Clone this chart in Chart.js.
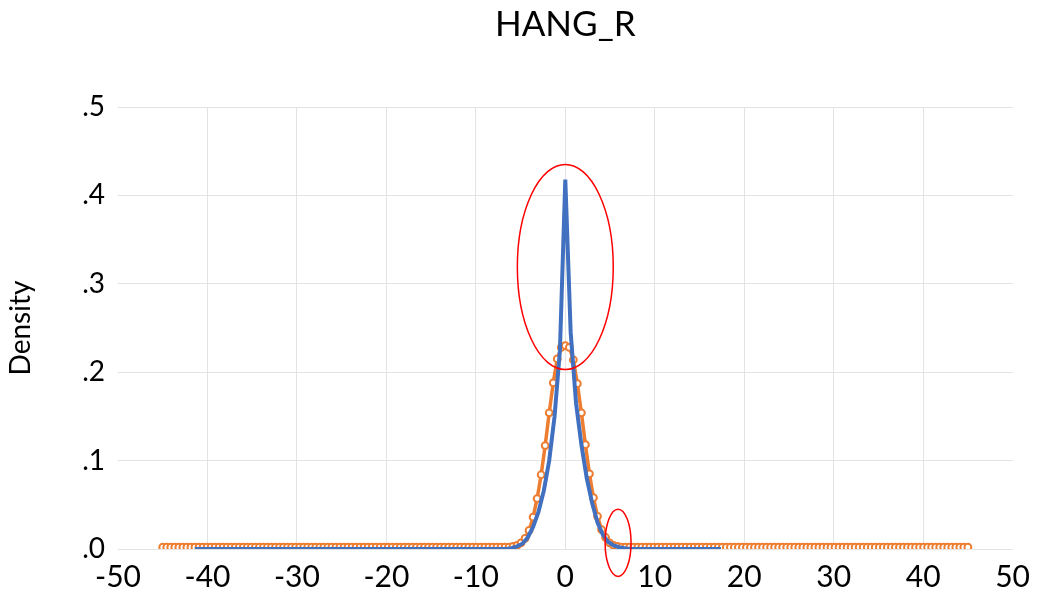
<!DOCTYPE html>
<html>
<head>
<meta charset="utf-8">
<script src="https://cdn.jsdelivr.net/npm/chart.js@4.4.1/dist/chart.umd.min.js"></script>
<style>
  body { margin: 0; background: #fff; }
  #wrap { width: 1040px; height: 605px; }
</style>
</head>
<body>
<div id="wrap"><canvas id="myChart" width="1040" height="605"></canvas></div>
<script>
// HANG_R density, two curves

// orange curve (with markers)
const orangeX = [
  -45, -44.55, -44.1, -43.65, -43.2, -42.75, -42.3, -41.85, -41.4, -40.95,
  -40.5, -40.05, -39.6, -39.15, -38.7, -38.25, -37.8, -37.35, -36.9, -36.45,
  -36, -35.55, -35.1, -34.65, -34.2, -33.75, -33.3, -32.85, -32.4, -31.95,
  -31.5, -31.05, -30.6, -30.15, -29.7, -29.25, -28.8, -28.35, -27.9, -27.45,
  -27, -26.55, -26.1, -25.65, -25.2, -24.75, -24.3, -23.85, -23.4, -22.95,
  -22.5, -22.05, -21.6, -21.15, -20.7, -20.25, -19.8, -19.35, -18.9, -18.45,
  -18, -17.55, -17.1, -16.65, -16.2, -15.75, -15.3, -14.85, -14.4, -13.95,
  -13.5, -13.05, -12.6, -12.15, -11.7, -11.25, -10.8, -10.35, -9.9, -9.45,
  -9, -8.55, -8.1, -7.65, -7.2, -6.75, -6.3, -5.85, -5.4, -4.95,
  -4.5, -4.05, -3.6, -3.15, -2.7, -2.25, -1.8, -1.35, -0.9, -0.45,
  0,
  0.45, 0.9, 1.35, 1.8, 2.25, 2.7, 3.15, 3.6, 4.05, 4.5,
  4.95, 5.4, 5.85, 6.3, 6.75, 7.2, 7.65, 8.1, 8.55, 9,
  9.45, 9.9, 10.35, 10.8, 11.25, 11.7, 12.15, 12.6, 13.05, 13.5,
  13.95, 14.4, 14.85, 15.3, 15.75, 16.2, 16.65, 17.1, 17.55, 18,
  18.45, 18.9, 19.35, 19.8, 20.25, 20.7, 21.15, 21.6, 22.05, 22.5,
  22.95, 23.4, 23.85, 24.3, 24.75, 25.2, 25.65, 26.1, 26.55, 27,
  27.45, 27.9, 28.35, 28.8, 29.25, 29.7, 30.15, 30.6, 31.05, 31.5,
  31.95, 32.4, 32.85, 33.3, 33.75, 34.2, 34.65, 35.1, 35.55, 36,
  36.45, 36.9, 37.35, 37.8, 38.25, 38.7, 39.15, 39.6, 40.05, 40.5,
  40.95, 41.4, 41.85, 42.3, 42.75, 43.2, 43.65, 44.1, 44.55, 45
];
const orangeY = [
  0.002, 0.002, 0.002, 0.002, 0.002, 0.002, 0.002, 0.002, 0.002, 0.002,
  0.002, 0.002, 0.002, 0.002, 0.002, 0.002, 0.002, 0.002, 0.002, 0.002,
  0.002, 0.002, 0.002, 0.002, 0.002, 0.002, 0.002, 0.002, 0.002, 0.002,
  0.002, 0.002, 0.002, 0.002, 0.002, 0.002, 0.002, 0.002, 0.002, 0.002,
  0.002, 0.002, 0.002, 0.002, 0.002, 0.002, 0.002, 0.002, 0.002, 0.002,
  0.002, 0.002, 0.002, 0.002, 0.002, 0.002, 0.002, 0.002, 0.002, 0.002,
  0.002, 0.002, 0.002, 0.002, 0.002, 0.002, 0.002, 0.002, 0.002, 0.002,
  0.002, 0.002, 0.002, 0.002, 0.002, 0.002, 0.002, 0.002, 0.002, 0.002,
  0.002, 0.002, 0.002, 0.002, 0.002, 0.002, 0.002, 0.003, 0.004, 0.007,
  0.012, 0.021, 0.036, 0.057, 0.084, 0.117, 0.154, 0.188, 0.215, 0.228,
  0.230,
  0.228, 0.214, 0.187, 0.154, 0.118, 0.085, 0.058, 0.037, 0.022, 0.013,
  0.007, 0.004, 0.003, 0.002, 0.002, 0.002, 0.002, 0.002, 0.002, 0.002,
  0.002, 0.002, 0.002, 0.002, 0.002, 0.002, 0.002, 0.002, 0.002, 0.002,
  0.002, 0.002, 0.002, 0.002, 0.002, 0.002, 0.002, 0.002, 0.002, 0.002,
  0.002, 0.002, 0.002, 0.002, 0.002, 0.002, 0.002, 0.002, 0.002, 0.002,
  0.002, 0.002, 0.002, 0.002, 0.002, 0.002, 0.002, 0.002, 0.002, 0.002,
  0.002, 0.002, 0.002, 0.002, 0.002, 0.002, 0.002, 0.002, 0.002, 0.002,
  0.002, 0.002, 0.002, 0.002, 0.002, 0.002, 0.002, 0.002, 0.002, 0.002,
  0.002, 0.002, 0.002, 0.002, 0.002, 0.002, 0.002, 0.002, 0.002, 0.002,
  0.002, 0.002, 0.002, 0.002, 0.002, 0.002, 0.002, 0.002, 0.002, 0.002
];

// blue curve (line only)
const blueX = [
  -41.4, -40.8, -40.2, -39.6, -39, -38.4, -37.8, -37.2, -36.6, -36,
  -35.4, -34.8, -34.2, -33.6, -33, -32.4, -31.8, -31.2, -30.6, -30,
  -29.4, -28.8, -28.2, -27.6, -27, -26.4, -25.8, -25.2, -24.6, -24,
  -23.4, -22.8, -22.2, -21.6, -21, -20.4, -19.8, -19.2, -18.6, -18,
  -17.4, -16.8, -16.2, -15.6, -15, -14.4, -13.8, -13.2, -12.6, -12,
  -11.4, -10.8, -10.2, -9.6, -9, -8.4, -7.8, -7.2, -6.6, -6,
  -5.4, -4.8, -4.2, -3.6, -3, -2.4, -1.8, -1.2, -0.6, 0,
  0.6, 1.2, 1.8, 2.4, 3, 3.6, 4.2, 4.8, 5.4, 6,
  6.6, 7.2, 7.8, 8.4, 9, 9.6, 10.2, 10.8, 11.4, 12,
  12.6, 13.2, 13.8, 14.4, 15, 15.6, 16.2, 16.8, 17.4
];
const blueY = [
  0, 0, 0, 0, 0, 0, 0, 0, 0, 0,
  0, 0, 0, 0, 0, 0, 0, 0, 0, 0,
  0, 0, 0, 0, 0, 0, 0, 0, 0, 0,
  0, 0, 0, 0, 0, 0, 0, 0, 0, 0,
  0, 0, 0, 0, 0, 0, 0, 0, 0, 0,
  0, 0, 0, 0, 0, 0, 0, 0, 0, 0.001,
  0.003, 0.006, 0.013, 0.025, 0.042, 0.066, 0.100, 0.150, 0.225, 0.418,
  0.245, 0.165, 0.118, 0.080, 0.052, 0.030, 0.016, 0.008, 0.004, 0.002,
  0.001, 0, 0, 0, 0, 0, 0, 0, 0, 0,
  0, 0, 0, 0, 0, 0, 0, 0, 0
];

const xTickLabels = ['-50', '-40', '-30', '-20', '-10', '0', '10', '20', '30', '40', '50'];
const yTickLabels = ['.0', '.1', '.2', '.3', '.4', '.5'];
const chartTitle = 'HANG_R';

const toPoints = (xs, ys) => xs.map((x, i) => ({ x: x, y: ys[i] }));

const font = 'Lato, "Open Sans", sans-serif';

// red hand drawn rings, in data units
const rings = [
  { x: 0, y: 0.319, rx: 5.36, ry: 0.116 },
  { x: 5.9, y: 0.007, rx: 1.45, ry: 0.038 }
];

const ringPlugin = {
  id: 'rings',
  afterDatasetsDraw(chart) {
    const c = chart.ctx;
    const sx = chart.scales.x, sy = chart.scales.y;
    c.save();
    c.strokeStyle = '#ff0000';
    c.lineWidth = 1.5;
    rings.forEach(r => {
      const cx = sx.getPixelForValue(r.x);
      const cy = sy.getPixelForValue(r.y);
      const rx = Math.abs(sx.getPixelForValue(r.x + r.rx) - cx);
      const ry = Math.abs(sy.getPixelForValue(r.y + r.ry) - cy);
      c.beginPath();
      c.ellipse(cx, cy, rx, ry, 0, 0, Math.PI * 2);
      c.stroke();
    });
    c.restore();
  }
};

// title centred over the plot area, like the excel chart
const titlePlugin = {
  id: 'plotTitle',
  afterDraw(chart) {
    const c = chart.ctx;
    const a = chart.chartArea;
    c.save();
    c.fillStyle = '#000';
    c.font = '35px ' + font;
    c.textAlign = 'center';
    c.textBaseline = 'middle';
    c.fillText(chartTitle, (a.left + a.right) / 2, 25);
    c.restore();
  }
};

const ctx = document.getElementById('myChart').getContext('2d');
const myChart = new Chart(ctx, {
  type: 'line',
  data: {
    datasets: [
      {
        label: 'blue',
        data: toPoints(blueX, blueY),
        borderColor: '#4170c0',
        borderWidth: 4,
        pointRadius: 0,
        tension: 0,
        order: 0
      },
      {
        label: 'orange',
        data: toPoints(orangeX, orangeY),
        borderColor: '#ed7d31',
        borderWidth: 3.5,
        pointRadius: 3.4,
        pointBorderWidth: 2,
        pointBackgroundColor: '#ffffff',
        pointBorderColor: '#ed7d31',
        tension: 0,
        order: 1
      }
    ]
  },
  options: {
    responsive: false,
    animation: false,
    layout: { padding: { left: 0, right: 27, top: 107, bottom: 0 } },
    plugins: {
      legend: { display: false },
      tooltip: { enabled: false },
      title: { display: false }
    },
    scales: {
      x: {
        type: 'linear',
        min: -50,
        max: 50,
        border: { display: false },
        grid: {
          drawTicks: false,
          color: c => (c.tick && (c.tick.value === -50 || c.tick.value === 50)) ? 'rgba(0,0,0,0)' : '#e3e3e3'
        },
        ticks: {
          stepSize: 10,
          padding: 10,
          color: '#000',
          maxRotation: 0,
          font: { family: font, size: 30 },
          callback: (v, i) => xTickLabels[i]
        },
        afterFit: s => { s.height = 56; }
      },
      y: {
        min: 0,
        max: 0.5,
        border: { display: false },
        grid: { drawTicks: false, color: '#e3e3e3' },
        ticks: {
          stepSize: 0.1,
          padding: 13,
          color: '#000',
          font: { family: font, size: 28 },
          callback: (v, i) => yTickLabels[i]
        },
        title: {
          display: true,
          text: 'Density',
          color: '#000',
          font: { family: font, size: 28 },
          padding: { top: 4, bottom: 0 }
        },
        afterFit: s => { s.width = 118; }
      }
    }
  },
  plugins: [ringPlugin, titlePlugin]
});
</script>
</body>
</html>
